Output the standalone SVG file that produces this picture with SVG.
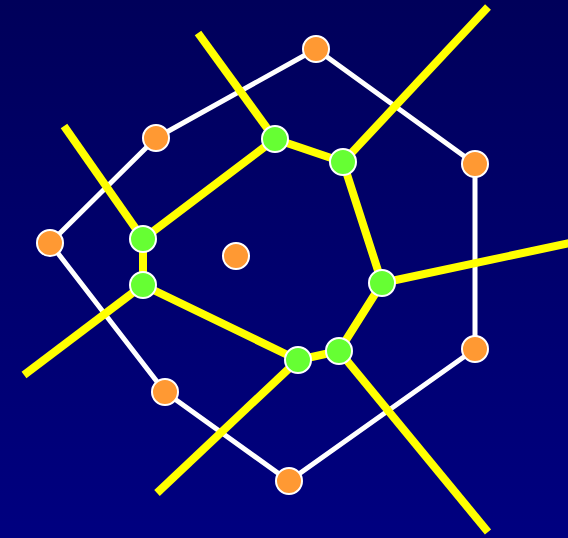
<svg xmlns="http://www.w3.org/2000/svg" width="568" height="538" viewBox="0 0 568 538">
<defs>
<linearGradient id="bg" x1="0" y1="0" x2="0" y2="1">
<stop offset="0" stop-color="#00005a"/>
<stop offset="1" stop-color="#000080"/>
</linearGradient>
<style>
.w{stroke:#ffffff;stroke-width:5;fill:none}
.y{stroke:#ffff00;stroke-width:8;fill:none}
.o{fill:#ff9933;stroke:#ffffff;stroke-width:2}
.g{fill:#66ff33;stroke:#ffffff;stroke-width:2}
</style>
</defs>
<rect width="568" height="538" fill="url(#bg)"/>
<g id="connectors">
<polygon class="w" points="316,49 156,138 50,243 165,392 289,481 475,349 475,164" stroke-linejoin="round"/>
<polygon class="y" points="275,139 343,162 382,283 339,351 298,360 143,285 143,239" stroke-linejoin="round"/>
<line class="y" x1="275" y1="139" x2="198" y2="33"/>
<line class="y" x1="343" y1="162" x2="488" y2="7"/>
<line class="y" x1="143" y1="239" x2="64" y2="126"/>
<line class="y" x1="143" y1="285" x2="24" y2="375"/>
<line class="y" x1="382" y1="283" x2="570" y2="243"/>
<line class="y" x1="339" y1="351" x2="488" y2="532"/>
<line class="y" x1="298" y1="360" x2="157" y2="493"/>
</g>
<g id="o1"><circle class="o" cx="316" cy="49" r="13"/></g>
<g id="o2"><circle class="o" cx="156" cy="138" r="13"/></g>
<g id="o3"><circle class="o" cx="50" cy="243" r="13"/></g>
<g id="o4"><circle class="o" cx="475" cy="164" r="13"/></g>
<g id="o5"><circle class="o" cx="475" cy="349" r="13"/></g>
<g id="o6"><circle class="o" cx="289" cy="481" r="13"/></g>
<g id="o7"><circle class="o" cx="165" cy="392" r="13"/></g>
<g id="o8"><circle class="o" cx="236" cy="256" r="13"/></g>
<g id="g1"><circle class="g" cx="275" cy="139" r="13"/></g>
<g id="g2"><circle class="g" cx="343" cy="162" r="13"/></g>
<g id="g3"><circle class="g" cx="143" cy="239" r="13"/></g>
<g id="g4"><circle class="g" cx="143" cy="285" r="13"/></g>
<g id="g5"><circle class="g" cx="382" cy="283" r="13"/></g>
<g id="g6"><circle class="g" cx="339" cy="351" r="13"/></g>
<g id="g7"><circle class="g" cx="298" cy="360" r="13"/></g>
</svg>
